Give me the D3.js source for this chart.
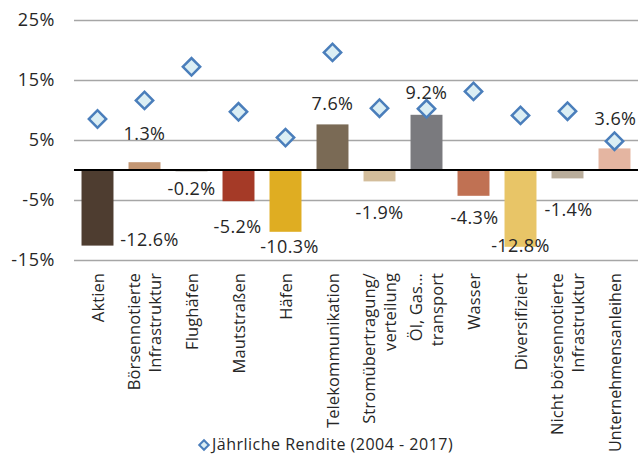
<!DOCTYPE html>
<html>
<head>
<meta charset="utf-8">
<script src="https://cdn.jsdelivr.net/npm/d3@7"></script>
<style>
    body { margin: 0; background: #fff; }
    svg text { font-family: "Open Sans", sans-serif; fill: #262626; }
</style>
</head>
<body>
<svg id="chart" width="638" height="454"></svg>
<script>
// categories (\n = line break in the axis label)
const categories = [
    "Aktien",
    "Börsennotierte\nInfrastruktur",
    "Flughäfen",
    "Mautstraßen",
    "Häfen",
    "Telekommunikation",
    "Stromübertragung/\nverteilung",
    "Öl, Gas…\ntransport",
    "Wasser",
    "Diversifiziert",
    "Nicht börsennotierte\nInfrastruktur",
    "Unternehmensanleihen"
];
// bars: value per category, in %
const barValues = [-12.6, 1.3, -0.2, -5.2, -10.3, 7.6, -1.9, 9.2, -4.3, -12.8, -1.4, 3.6];
// diamonds: Jährliche Rendite (2004 - 2017), in %
const annualReturn = [8.5, 11.6, 17.2, 9.7, 5.4, 19.6, 10.3, 10.2, 13.1, 9.1, 9.8, 4.8];
const yTicks = [-15, -5, 5, 15, 25];
const legendLabel = "Jährliche Rendite (2004 - 2017)";

const barColors = ["#4e3d30", "#c39673", "#6b5a4a", "#a53a27", "#dfad22", "#7a6a55",
                   "#d3bd9b", "#7a7a7e", "#c07153", "#e8c567", "#b9ad9b", "#e4b5a1"];
// label nudges (px) relative to the bar end, as placed in the original
const labelNudge = [[52, -6], [0, -29], [0, 17], [-1, 25], [4, 15], [0, -21],
                    [0, 31], [0, -22], [1, 22], [0, -1], [1, 31], [1, -30]];

let width = 638,
    height = 454,
    margins = {top: 20, bottom: 194, left: 74, right: 0};

const svg = d3.select("#chart");

const x = d3.scaleBand()
    .domain(categories)
    .range([margins.left, width - margins.right])
    .paddingInner(0.32)
    .paddingOuter(0.16);

const y = d3.scaleLinear()
    .domain([-15, 25])
    .range([height - margins.bottom, margins.top]);

// grid + y labels
const yAxis = d3.axisLeft(y)
    .tickValues(yTicks)
    .tickSize(-(width - margins.left - margins.right))
    .tickPadding(19)
    .tickFormat(d => d + "%");

svg.append("g")
    .attr("transform", `translate(${margins.left},0)`)
    .call(yAxis)
    .call(g => g.select(".domain").remove())
    .call(g => g.selectAll(".tick line").attr("stroke", "#a6a6a6").attr("stroke-width", 1.5))
    .call(g => g.selectAll(".tick text").attr("font-size", 18).attr("fill", "#262626")
        .attr("letter-spacing", 0.6)
        .attr("font-family", "Open Sans, sans-serif"));

// bars
svg.append("g")
    .selectAll("rect")
    .data(barValues)
    .join("rect")
    .attr("x", (d, i) => x(categories[i]))
    .attr("width", x.bandwidth())
    .attr("y", d => y(Math.max(0, d)))
    .attr("height", d => Math.abs(y(d) - y(0)))
    .attr("fill", (d, i) => barColors[i]);

// zero line
svg.append("line")
    .attr("x1", margins.left)
    .attr("x2", width - margins.right)
    .attr("y1", y(0))
    .attr("y2", y(0))
    .attr("stroke", "#000")
    .attr("stroke-width", 2);

// bar labels
svg.append("g")
    .selectAll("text")
    .data(barValues)
    .join("text")
    .attr("x", (d, i) => x(categories[i]) + x.bandwidth() / 2 + labelNudge[i][0])
    .attr("y", (d, i) => y(d) + labelNudge[i][1])
    .attr("dy", "0.36em")
    .attr("text-anchor", "middle")
    .attr("font-size", 18)
    .attr("letter-spacing", 0.4)
    .text(d => d.toFixed(1) + "%");

// diamonds
const diamond = d3.symbol().type(d3.symbolSquare).size(150);
svg.append("g")
    .selectAll("path")
    .data(annualReturn)
    .join("path")
    .attr("d", diamond)
    .attr("transform", (d, i) => `translate(${x(categories[i]) + x.bandwidth() / 2},${y(d)}) rotate(45)`)
    .attr("fill", "#dbeef4")
    .attr("stroke", "#4a7ebb")
    .attr("stroke-width", 2.5);

// category labels, rotated
const catG = svg.append("g");
const labelTop = y(-15) + 13;
const maxLen = height - labelTop - 2;
categories.forEach((c, i) => {
    const lines = c.split("\n");
    const cx = x(c) + x.bandwidth() / 2;
    const lh = 21;
    lines.forEach((line, j) => {
        const off = (j - (lines.length - 1) / 2) * lh;
        const t = catG.append("text")
            .attr("transform", `translate(${cx + off + 6},${labelTop}) rotate(-90)`)
            .attr("text-anchor", "end")
            .attr("font-size", 16.5)
            .attr("letter-spacing", 0.1)
            .text(line);
        // keep the longest label inside the picture
        const len = t.node().getComputedTextLength();
        if (len > maxLen) t.attr("font-size", 16.5 * maxLen / len);
    });
});

// legend
const legend = svg.append("g").attr("transform", "translate(204,445)");
legend.append("path")
    .attr("d", d3.symbol().type(d3.symbolSquare).size(45))
    .attr("transform", "rotate(45)")
    .attr("fill", "#dbeef4")
    .attr("stroke", "#4a7ebb")
    .attr("stroke-width", 2);
legend.append("text")
    .attr("x", 8)
    .attr("dy", "0.33em")
    .attr("font-size", 16)
    .attr("letter-spacing", 0.5)
    .text(legendLabel);
</script>
</body>
</html>
